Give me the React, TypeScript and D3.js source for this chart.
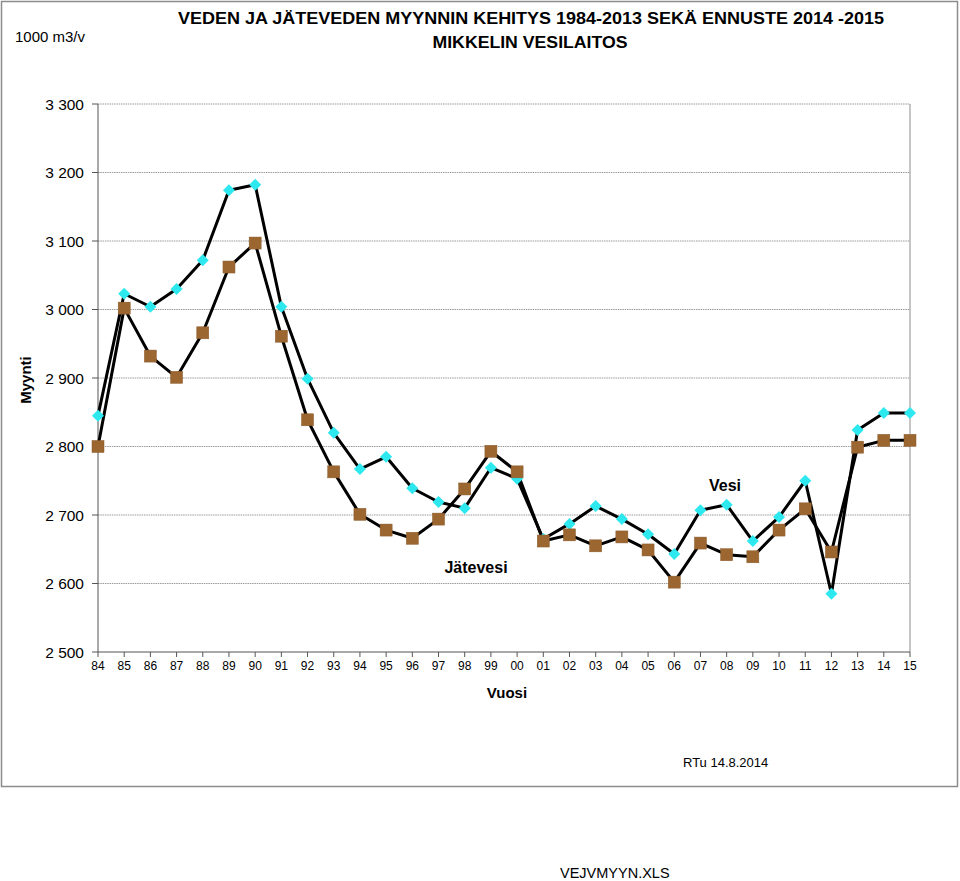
import React from "react";
import * as d3 from "d3";

const years = ["84","85","86","87","88","89","90","91","92","93","94","95","96","97","98","99","00","01","02","03","04","05","06","07","08","09","10","11","12","13","14","15"];
const vesi = [2845,3023,3004,3030,3072,3174,3182,3004,2899,2820,2767,2785,2739,2719,2710,2769,2753,2665,2687,2713,2694,2672,2643,2707,2715,2662,2697,2750,2585,2824,2849,2849];
const jatevesi = [2800,3002,2932,2901,2966,3062,3097,2961,2839,2763,2701,2678,2666,2694,2738,2793,2763,2662,2671,2655,2668,2649,2602,2659,2642,2639,2678,2709,2646,2799,2809,2809];
const yTicks = [2500,2600,2700,2800,2900,3000,3100,3200,3300];

const W = 960, H = 881;
const left = 98, right = 910, top = 104, bottom = 652;

export default function App() {
  const x = d3.scalePoint<string>().domain(years).range([left, right]);
  const y = d3.scaleLinear().domain([2500, 3300]).range([bottom, top]);
  const line = d3.line<number>().x((_, i) => x(years[i])!).y(d => y(d));
  const fmt = (v: number) => d3.format(",")(v).replace(",", " ");
  const font = "Arial, 'Liberation Sans', Helvetica, sans-serif";

  return (
    <svg width={W} height={H} style={{ position: "absolute", left: 0, top: 0, background: "#fff" }} fontFamily={font}>
      <rect x={1.5} y={1.5} width={956} height={785} fill="#fff" stroke="#8c8c8c" strokeWidth={1.5} />
      <text x={15} y={42} fontSize={14} fill="#000" textLength={70} lengthAdjust="spacingAndGlyphs">1000 m3/v</text>
      <text x={531} y={24} fontSize={16} fontWeight="bold" textAnchor="middle" textLength={706} lengthAdjust="spacingAndGlyphs">VEDEN JA JÄTEVEDEN MYYNNIN KEHITYS 1984-2013 SEKÄ ENNUSTE 2014 -2015</text>
      <text x={530} y={48} fontSize={16} fontWeight="bold" textAnchor="middle" textLength={195} lengthAdjust="spacingAndGlyphs">MIKKELIN VESILAITOS</text>

      {yTicks.map(t => (
        <g key={t}>
          {t > 2500 && <line x1={left} x2={right} y1={y(t)} y2={y(t)} stroke="#9a9a9a" strokeWidth={1} strokeDasharray="1.5 0.8" />}
          <line x1={left - 6} x2={left} y1={y(t)} y2={y(t)} stroke="#555" />
          <text x={84} y={y(t) + 5.5} fontSize={15.5} textAnchor="end">{fmt(t)}</text>
        </g>
      ))}
      <line x1={right} x2={right} y1={top} y2={bottom} stroke="#8c8c8c" />
      <line x1={left} x2={left} y1={top} y2={bottom} stroke="#555" />
      <line x1={left} x2={right} y1={bottom} y2={bottom} stroke="#555" />
      {years.map(yr => (
        <g key={yr}>
          <line x1={x(yr)!} x2={x(yr)!} y1={bottom} y2={bottom + 5} stroke="#555" />
          <text x={x(yr)!} y={670} fontSize={12} textAnchor="middle">{yr}</text>
        </g>
      ))}
      <text transform={`translate(31,380) rotate(-90)`} fontSize={15} fontWeight="bold" textAnchor="middle">Myynti</text>
      <text x={507} y={698} fontSize={15} fontWeight="bold" textAnchor="middle">Vuosi</text>

      <path d={line(vesi)!} fill="none" stroke="#000" strokeWidth={3} strokeLinejoin="round" />
      <path d={line(jatevesi)!} fill="none" stroke="#000" strokeWidth={3} strokeLinejoin="round" />
      {vesi.map((v, i) => {
        const cx = x(years[i])!, cy = y(v);
        return <path key={"v" + i} d={`M${cx},${cy - 6}L${cx + 6},${cy}L${cx},${cy + 6}L${cx - 6},${cy}Z`} fill="#2ee8f0" />;
      })}
      {jatevesi.map((v, i) => {
        const cx = x(years[i])!, cy = y(v);
        return <rect key={"j" + i} x={cx - 6} y={cy - 6} width={12} height={12} fill="#9c6630" stroke="#8a5a2a" strokeWidth={0.5} />;
      })}

      <text x={725} y={491} fontSize={16} fontWeight="bold" textAnchor="middle">Vesi</text>
      <text x={476} y={573} fontSize={16} fontWeight="bold" textAnchor="middle">Jätevesi</text>
      <text x={683} y={767} fontSize={13}>RTu  14.8.2014</text>
      <text x={560} y={878} fontSize={14.5}>VEJVMYYN.XLS</text>
    </svg>
  );
}
